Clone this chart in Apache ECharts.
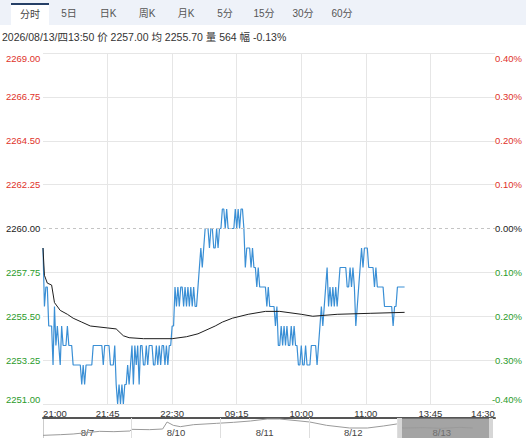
<!DOCTYPE html>
<html><head><meta charset="utf-8">
<script src="https://cdn.jsdelivr.net/npm/echarts@6/dist/echarts.min.js"></script>
<style>
html,body{margin:0;padding:0;background:#fff;width:526px;height:438px;overflow:hidden;font-family:"Liberation Sans",Arial,"Noto Sans CJK SC",sans-serif;}
#chart{position:absolute;left:0;top:0;width:526px;height:438px;}
#tabs{position:absolute;left:0;top:0;width:526px;height:25px;background:#eef2f9;z-index:2;}
.tab{position:absolute;top:3px;width:38px;height:22px;line-height:22px;text-align:center;font-size:10px;color:#555;font-family:"Liberation Sans",Arial,"Noto Sans CJK SC",sans-serif;}
.tab.sel{background:#fff;border-top:2px solid #253f66;height:20px;line-height:20px;color:#444;}
#info{position:absolute;left:2px;top:30px;height:14px;line-height:14px;font-size:10.5px;color:#333;white-space:nowrap;z-index:2;}
</style></head>
<body>
<div id="chart"></div>
<div id="tabs"></div>
<div id="info"></div>
<script>
const tabs = ['分时','5日','日K','周K','月K','5分','15分','30分','60分'];
const infoText = '2026/08/13/四13:50 价 2257.00 均 2255.70 量 564 幅 -0.13%';
const prevClose = 2260;
const yLeftLabels = ['2251.00','2253.25','2255.50','2257.75','2260.00','2262.25','2264.50','2266.75','2269.00'];
const yRightLabels = ['-0.40%','0.30%','0.20%','0.10%','0.00%','0.10%','0.20%','0.30%','0.40%'];
const xTickLabels = ['21:00','21:45','22:30','09:15','10:00','11:00','13:45','14:30'];
const sessions = [['21:00',120],['09:00',75],['10:30',60],['13:30',61]];
const price = [
2259,2256,2257,2257,2255,2255,2255,2253,2256,2254,
2255,2254,2253,2255,2254,2254,2254,2255,2254,2254,
2254,2253,2253,2253,2253,2253,2253,2252,2253,2252,
2253,2253,2253,2253,2253,2254,2254,2254,2254,2254,
2254,2254,2253,2254,2254,2254,2254,2253,2253,2253,
2254,2252,2251,2252,2251,2252,2251,2252,2252,2253,
2252,2253,2254,2252,2254,2253,2254,2252,2254,2254,
2253,2253,2254,2253,2254,2254,2254,2253,2253,2254,
2253,2254,2253,2254,2254,2253,2254,2253,2254,2254,
2255,2255,2257,2256,2257,2256,2257,2257,2256,2257,
2256,2257,2256,2257,2256,2257,2256,2256,2257,2258,
2259,2258,2259,2260,2260,2260,2259,2260,2260,2259,
2259,2260,2259,2260,2260,2261,2261,2260,2261,2260,
2260,2260,2260,2260,2261,2260,2261,2260,2261,2261,
2260,2258,2259,2259,2259,2258,2259,2258,2258,2257,
2258,2257,2257,2257,2257,2257,2256,2257,2256,2256,
2256,2256,2255,2256,2254,2254,2255,2254,2255,2254,
2255,2254,2254,2255,2254,2255,2254,2254,2253,2253,
2254,2253,2253,2254,2253,2253,2253,2254,2254,2254,
2254,2253,2254,2255,2256,2255,2256,2257,2258,2256,
2257,2256,2257,2256,2257,2256,2257,2258,2258,2258,
2258,2258,2257,2257,2258,2257,2258,2257,2255,2256,
2257,2258,2259,2258,2259,2259,2259,2258,2258,2258,
2258,2257,2258,2257,2257,2257,2257,2257,2256,2256,
2256,2256,2256,2256,2255,2256,2256,2257,2257,2257,
2257,2257,2257];
const avgPts = [
[0,2259],[1,2257.6],[3,2257.2],[6,2257.1],[8,2256.2],[12,2255.8],[17,2255.6],[21,2255.4],
[27,2255.2],[33,2255.0],[45,2254.9],[51,2254.85],[56,2254.5],[60,2254.4],[70,2254.35],
[90,2254.35],[100,2254.45],[108,2254.6],[120,2255.0],[125,2255.2],[132,2255.4],[143,2255.6],
[155,2255.75],[165,2255.75],[180,2255.6],[188,2255.5],[205,2255.6],[228,2255.65],[252,2255.7]];
const dayLabels = ['8/7','8/10','8/11','8/12','8/13'];
const dayBounds = [1,2,3,4];
const miniPts = [
[0,2238],[0.2,2240],[0.34,2242],[0.45,2245],[0.64,2250],[0.8,2249],[0.98,2251],[1.0,2256],
[1.2,2255],[1.35,2257],[1.4,2278],[1.47,2268],[1.55,2264],[1.7,2270],[1.96,2274],[2.15,2277],
[2.34,2281],[2.53,2287],[2.67,2287],[2.9,2281],[3.01,2278],[3.2,2268],[3.46,2260],[3.66,2260],
[3.84,2266],[3.99,2272],[4.06,2260],[4.3,2261],[4.5,2259],[4.7,2262],[4.85,2260]];
const selWindow = [4.03, 5.05];

// header
const tabsEl = document.getElementById('tabs');
tabs.forEach((t, k) => {
  const d = document.createElement('div');
  d.className = 'tab' + (k === 0 ? ' sel' : '');
  d.style.left = (11 + 39 * k) + 'px';
  d.textContent = t;
  tabsEl.appendChild(d);
});
document.getElementById('info').textContent = infoText;

// categories
const cats = [];
sessions.forEach(([start, n]) => {
  let [h, m] = start.split(':').map(Number);
  for (let k = 0; k < n; k++) {
    cats.push(String(h).padStart(2,'0') + ':' + String(m).padStart(2,'0'));
    m++; if (m === 60) { m = 0; h = (h + 1) % 24; }
  }
});
const step = 45;
const lastIdx = cats.length - 1;

const red = '#e0322a', green = '#2b9b2b', black = '#222';
function colL(v, i) { return i > 4 ? red : (i === 4 ? black : green); }
const font = '"Liberation Sans", Arial, sans-serif';

const chart = echarts.init(document.getElementById('chart'), null, {renderer: 'svg'});
chart.setOption({
  animation: false,
  backgroundColor: 'transparent',
  grid: [
    {left: 43, right: 31, top: 53, bottom: 34},
    {left: 43, right: 31, top: 418, height: 24}
  ],
  xAxis: [
    {
      type: 'category', gridIndex: 0, data: cats, boundaryGap: false,
      axisLine: {show: false}, axisTick: {show: false},
      axisLabel: {
        interval: (i) => i % step === 0, margin: 4, color: '#333', fontSize: 9.5, fontFamily: font,
        formatter: (v, i) => {
          const lab = xTickLabels[Math.round(i / step)] || v;
          if (i === 0) return '{l|' + lab + '}';
          if (i === lastIdx) return '{r|' + lab + '}';
          return lab;
        },
        rich: {l: {padding: [0, 0, 0, 24], fontSize: 9.5, color: '#333'}, r: {padding: [0, 24, 0, 0], fontSize: 9.5, color: '#333'}}
      },
      splitLine: {show: true, interval: (i) => i % step === 0 && i > 0 && i < lastIdx, lineStyle: {color: '#e6e6e6', width: 1}}
    },
    {
      type: 'value', gridIndex: 1, min: 0, max: 5.1, interval: 0.5, position: 'top',
      axisLine: {show: true, lineStyle: {color: '#555', width: 2}}, axisTick: {show: false},
      axisLabel: {inside: true, margin: 9, color: '#444', fontSize: 9.5, fontFamily: font,
        formatter: (v) => (Math.abs(v % 1 - 0.5) < 1e-6 ? (dayLabels[Math.floor(v)] || '') : '')},
      splitLine: {show: false}
    }
  ],
  yAxis: [
    {type: 'value', gridIndex: 0, min: 2251, max: 2269, show: false, splitLine: {show: false}},
    {
      type: 'category', gridIndex: 0, position: 'left', data: yLeftLabels, boundaryGap: false,
      axisLine: {show: false}, axisTick: {show: false},
      axisLabel: {align: 'left', margin: 37, fontSize: 9.5, fontFamily: font, color: colL,
        formatter: (v, i) => i === 8 ? '{t|' + v + '}' : (i === 0 ? '{b|' + v + '}' : v),
        rich: {t: {padding: [11, 0, 0, 0], fontSize: 9.5, color: red}, b: {padding: [0, 0, 10, 0], fontSize: 9.5, color: green}}},
      splitLine: {show: true, interval: (i) => i !== 4, lineStyle: {color: '#e6e6e6', width: 1}}
    },
    {
      type: 'category', gridIndex: 0, position: 'right', data: yRightLabels, boundaryGap: false,
      axisLine: {show: false}, axisTick: {show: false},
      axisLabel: {align: 'right', margin: 27, fontSize: 9.5, fontFamily: font, color: colL,
        formatter: (v, i) => i === 8 ? '{t|' + v + '}' : (i === 0 ? '{b|' + v + '}' : v),
        rich: {t: {padding: [11, 0, 0, 0], fontSize: 9.5, color: red}, b: {padding: [0, 0, 10, 0], fontSize: 9.5, color: green}}},
      splitLine: {show: false}
    },
    {type: 'value', gridIndex: 1, min: 2230, max: 2290, axisLabel: {show: false}, axisTick: {show: false},
      splitLine: {show: false}, axisLine: {show: true, lineStyle: {color: '#ccc'}}}
  ],
  series: [
    {
      type: 'line', xAxisIndex: 0, yAxisIndex: 0, data: price, symbol: 'none',
      lineStyle: {color: '#3a8fd5', width: 1.2}, z: 3,
      markLine: {silent: true, symbol: ['none', 'none'], label: {show: false},
        lineStyle: {type: [3, 3], color: '#c4c4c4', width: 1}, data: [{yAxis: prevClose}]}
    },
    {
      type: 'line', xAxisIndex: 0, yAxisIndex: 0, data: avgPts, symbol: 'none',
      lineStyle: {color: '#1e1e1e', width: 1}, z: 4
    },
    {
      type: 'line', xAxisIndex: 1, yAxisIndex: 3, data: miniPts, symbol: 'none',
      lineStyle: {color: '#9a9a9a', width: 1}, z: 3,
      markArea: {silent: true, itemStyle: {color: 'rgba(125,125,125,0.7)'},
        data: [[{xAxis: selWindow[0]}, {xAxis: selWindow[1]}]]},
      markLine: {silent: true, symbol: ['none', 'none'], label: {show: false},
        lineStyle: {type: 'solid', color: '#dedede', width: 1},
        data: dayBounds.map(d => ({xAxis: d})).concat(
          selWindow.map(d => ({xAxis: d, lineStyle: {color: '#d6d6d6', width: 4, type: 'solid'}})))}
    }
  ]
});
</script>
</body></html>
